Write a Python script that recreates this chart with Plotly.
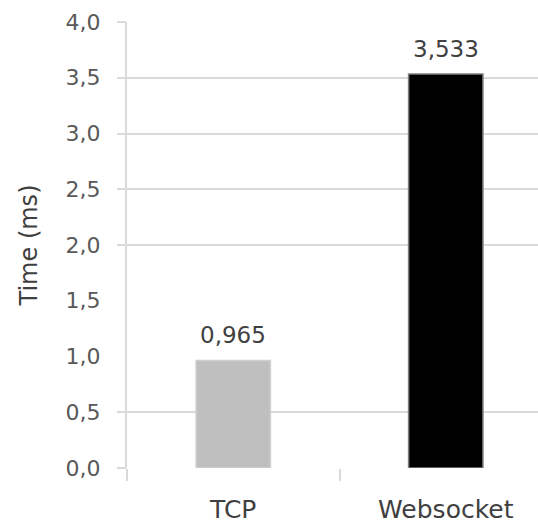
import plotly.graph_objects as go

categories = ["TCP", "Websocket"]
times_ms = [0.965, 3.533]
bar_colors = ["#bfbfbf", "#000000"]
bar_edges = ["#d0d0d0", "#7f7f7f"]
y_tick_vals = [0.0, 0.5, 1.0, 1.5, 2.0, 2.5, 3.0, 3.5, 4.0]
grid_vals = [0.0, 0.5, 2.0, 2.5, 3.0, 3.5, 4.0]

FONT = "DejaVu Sans"
TXT = "#595959"

fig = go.Figure()
# invisible helper trace so the grid-only overlay axis is rendered
fig.add_trace(go.Scatter(
    x=categories, y=times_ms, yaxis="y2", mode="markers",
    marker=dict(opacity=0), showlegend=False, hoverinfo="skip",
))
fig.add_trace(go.Bar(
    x=categories, y=times_ms, width=0.35,
    marker=dict(color=bar_colors, line=dict(color=bar_edges, width=1.5)),
    showlegend=False, hoverinfo="skip",
))

for c, v in zip(categories, times_ms):
    fig.add_annotation(
        x=c, y=v, xref="x", yref="y", text=f"{v:.3f}".replace(".", ","),
        showarrow=False, yanchor="bottom", yshift=10,
        font=dict(family=FONT, size=23, color="#404040"),
    )

fig.update_layout(
    width=538, height=524,
    margin=dict(l=127, r=0, t=22, b=53),
    paper_bgcolor="white", plot_bgcolor="white",
    separators=",.",
    xaxis=dict(
        range=[-0.5, 1.434], showgrid=False, showline=False, zeroline=False,
        ticks="outside", tickson="boundaries", ticklen=12, tickwidth=2,
        tickcolor="#d9d9d9", ticklabelstandoff=24,
        tickfont=dict(family=FONT, size=25, color="#404040"),
    ),
    yaxis=dict(
        range=[0, 4], tickvals=y_tick_vals, tickformat=".1f",
        showgrid=False, zeroline=False, showline=True, linecolor="#d9d9d9", linewidth=2,
        ticks="outside", ticklen=20, tickcolor="rgba(0,0,0,0)",
        tickfont=dict(family=FONT, size=22, color=TXT),
        title=dict(text="Time (ms)", font=dict(family=FONT, size=24, color="#404040"), standoff=21),
    ),
    yaxis2=dict(
        overlaying="y", side="left", range=[0, 4], tickvals=grid_vals,
        showgrid=True, gridcolor="#d9d9d9", gridwidth=2, zeroline=False,
        ticks="outside", ticklen=9, tickwidth=2, tickcolor="#d9d9d9",
        showticklabels=False, showline=False,
    ),
)

fig.write_html(
    "out.html",
    config={"displayModeBar": False, "staticPlot": True},
    post_script="document.body.style.margin='0';",
)
